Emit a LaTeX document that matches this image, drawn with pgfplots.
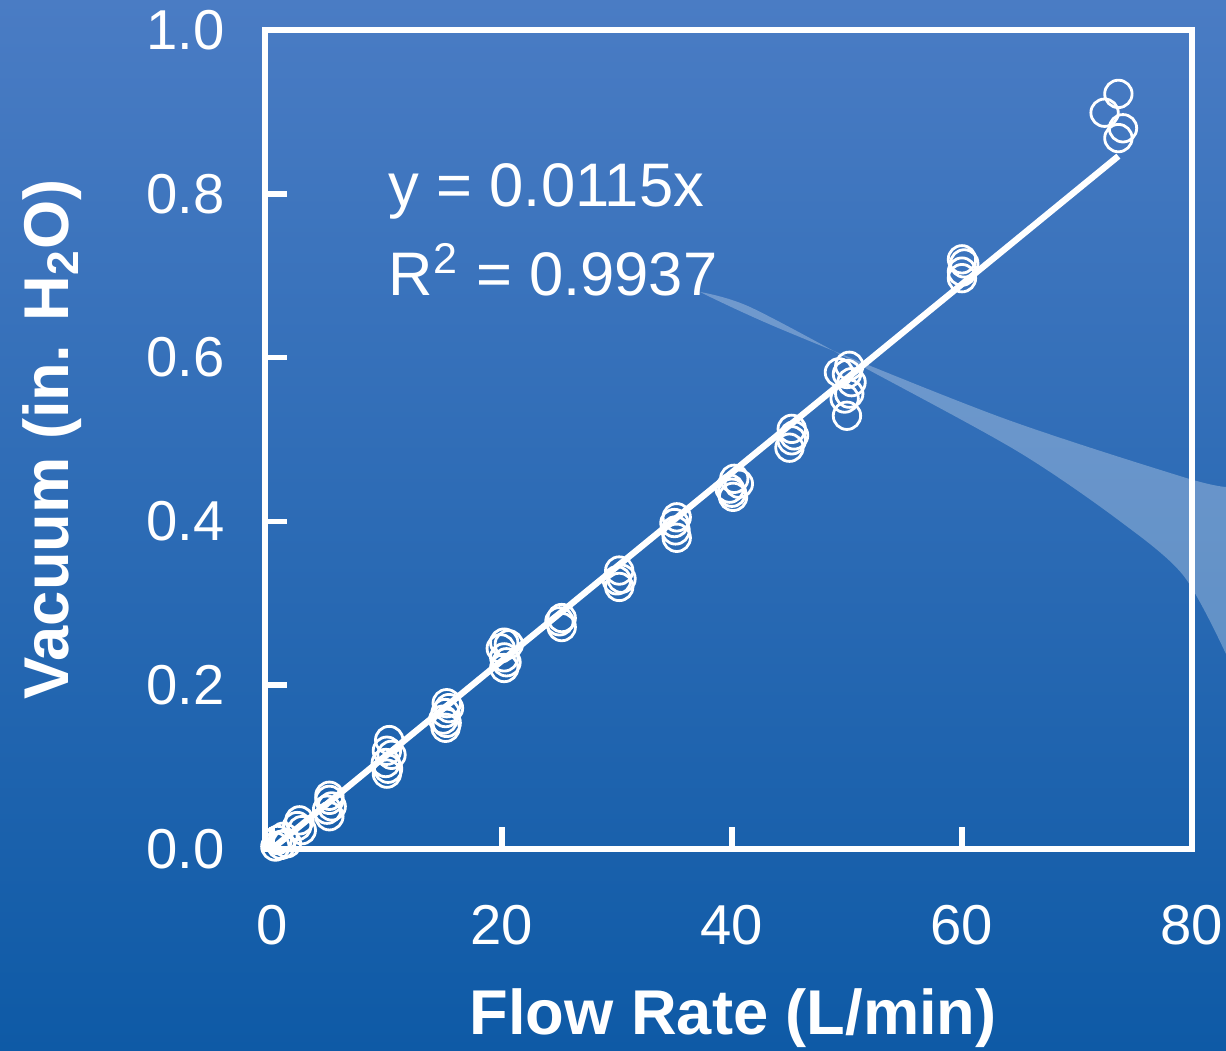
\documentclass[border=0pt]{standalone}
\usepackage{fontspec}
\setmainfont{Liberation Sans}
\usepackage{pgfplots}
\pgfplotsset{compat=1.18}
\definecolor{bgtop}{HTML}{4A7CC4}
\definecolor{bgmid}{HTML}{2B6BB7}
\definecolor{bgbot}{HTML}{0E5AA6}
\pgfplotstableread{
x y
0.3 0.003
0.5 0.011
1.0 0.015
1.3 0.007
0.8 0.005
2.4 0.035
2.6 0.023
2.2 0.028
5.0 0.065
5.0 0.060
5.2 0.052
4.8 0.048
5.0 0.040
10.2 0.133
10.0 0.120
10.4 0.115
9.9 0.105
10.1 0.098
10.0 0.092
15.2 0.178
15.4 0.172
15.1 0.166
14.9 0.158
15.2 0.154
15.1 0.148
20.2 0.252
20.6 0.250
19.9 0.245
20.2 0.234
20.4 0.228
20.2 0.221
25.2 0.282
25.0 0.278
25.2 0.271
30.2 0.340
30.4 0.330
30.0 0.328
30.2 0.320
35.2 0.405
35.0 0.398
35.1 0.389
35.2 0.380
40.2 0.452
40.6 0.446
39.8 0.440
40.0 0.435
40.1 0.430
45.2 0.513
45.4 0.505
45.2 0.499
45.0 0.490
50.2 0.590
49.3 0.582
50.0 0.580
50.4 0.570
50.2 0.556
49.8 0.550
50.0 0.529
60.0 0.720
60.2 0.715
60.0 0.705
60.0 0.697
73.6 0.922
72.4 0.899
74.0 0.880
73.6 0.868
}\vacdata
\begin{document}
\begin{tikzpicture}
\useasboundingbox (-2.65,-2.01) rectangle (9.61,8.49);
\shade[top color=bgtop, middle color=bgmid, bottom color=bgbot] (-2.65,-2.01) rectangle (9.61,8.49);
\fill[white, opacity=0.28] plot[smooth] coordinates {(4.35,5.57) (5.18,5.19) (7.35,4.32) (9.18,3.72) (9.61,3.62)}
  -- plot[smooth] coordinates {(9.61,1.95) (9.18,2.74) (8.52,3.30) (7.52,3.98) (6.02,4.80) (4.85,5.42) (4.35,5.57)} -- cycle;
\begin{axis}[
  at={(0,0)}, anchor=south west,
  scale only axis, width=9.27cm, height=8.19cm,
  xmin=-0.6, xmax=80, ymin=0, ymax=1,
  clip=false,
  axis line style={white, line width=1.6pt},
  every tick/.style={white, line width=1.6pt},
  major tick length=0.22cm,
  tick align=inside,
  xtick pos=left, ytick pos=left,
  xtick={0,20,40,60,80}, xticklabels={0,20,40,60,80},
  ytick={0,0.2,0.4,0.6,0.8,1.0}, yticklabels={0.0,0.2,0.4,0.6,0.8,1.0},
  /pgf/number format/assume math mode=true,
  ticklabel style={white, font=\fontsize{16}{18}\selectfont},
  xticklabel shift=0.44cm,
  yticklabel shift=0.28cm,
  xlabel={Flow Rate (L/min)},
  ylabel={Vacuum (in. H\textsubscript{2}O)},
  label style={white, font=\fontsize{18}{20}\selectfont\bfseries},
  xlabel style={at={(axis description cs:0.505,-0.226)}, anchor=base},
  ylabel style={at={(axis description cs:-0.2125,0.5)}, anchor=base, rotate=0},
]
\addplot[white, line width=1.8pt] coordinates {(0,0) (73.6,0.846)};
\addplot[only marks, mark=o, mark size=3.9pt, draw=white, mark options={line width=0.8pt, draw=white}] table[x=x, y=y] {\vacdata};
\node[anchor=base west, white, font=\fontsize{17.5}{20}\selectfont] at (axis cs:9.1,0.785) {y = 0.0115x};
\node[anchor=base west, white, font=\fontsize{17.5}{20}\selectfont] at (axis cs:9.1,0.676) {R\textsuperscript{2} = 0.9937};
\end{axis}
\end{tikzpicture}
\end{document}
